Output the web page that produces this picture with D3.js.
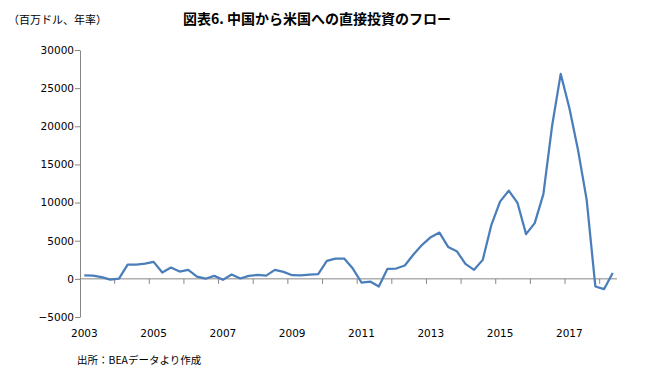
<!DOCTYPE html>
<html>
<head>
<meta charset="utf-8">
<script src="https://cdn.jsdelivr.net/npm/d3@7"></script>
<style>
  body { margin: 0; background: #fff; }
</style>
</head>
<body>
<script>
// chart size
var w = 647;
var h = 378;

// data: China -> US direct investment flow, quarterly, million USD (annual rate)
var startYear = 2003;
var flowValues = [
  450, 430, 220, -100,
  30, 1870, 1870, 2000,
  2230, 830, 1480, 960,
  1180, 300, 20, 390,
  -130, 570, 50, 390,
  520, 430, 1180, 920,
  480, 460, 540, 610,
  2360, 2660, 2660, 1350,
  -480, -350, -1000, 1310,
  1350, 1750, 3200, 4460,
  5460, 6070, 4190, 3630,
  1970, 1180, 2490, 7080,
  10130, 11570, 10000, 5860,
  7300, 11100, 20000, 26870,
  22400, 16900, 10350, -1000,
  -1350, 780
];
var yearLabels = ["2003", "2005", "2007", "2009", "2011", "2013", "2015", "2017"];
var yTicks = [-5000, 0, 5000, 10000, 15000, 20000, 25000, 30000];

var titleText = "図表6. 中国から米国への直接投資のフロー";
var unitText = "（百万ドル、年率）";
var sourceText = "出所：BEAデータより作成";

// quarter categories
var quarters = flowValues.map(function(d, i) {
  return (startYear + Math.floor(i / 4)) + "Q" + (i % 4 + 1);
});

// plot area (note: "top" is reserved on window, so use plot* names)
var plotLeft = 80, plotRight = 617, plotTop = 50, plotBottom = 317;
var axisColor = "#868686";

var svg = d3.select("body")
  .append("svg")
  .attr("width", w)
  .attr("height", h);

var xScale = d3.scalePoint()
  .domain(quarters)
  .range([plotLeft, plotRight])
  .padding(0.5);

var yScale = d3.scaleLinear()
  .domain([-5000, 30000])
  .range([plotBottom, plotTop]);

// y axis
var yAxis = d3.axisLeft(yScale)
  .tickValues(yTicks)
  .tickSize(5)
  .tickSizeOuter(0)
  .tickFormat(d3.format("d"));

var gy = svg.append("g")
  .attr("transform", "translate(" + plotLeft + ",0)")
  .call(yAxis);
gy.select(".domain").attr("stroke", axisColor).attr("stroke-width", 1);
gy.selectAll(".tick line").attr("stroke", axisColor);
gy.selectAll(".tick text")
  .attr("x", -6)
  .attr("fill", "#000")
  .attr("font-family", "DejaVu Sans, sans-serif")
  .attr("font-size", "10.5px");

// x axis on zero line, ticks every 4 quarters
var step = xScale.step();
var tickQuarters = quarters.filter(function(d, i) { return i % 4 === 0; }).slice(1);
var gx = svg.append("g");
gx.append("line")
  .attr("x1", plotLeft)
  .attr("x2", plotRight)
  .attr("y1", yScale(0))
  .attr("y2", yScale(0))
  .attr("stroke", axisColor)
  .attr("stroke-width", 1);
gx.selectAll("line.xt")
  .data(tickQuarters)
  .enter()
  .append("line")
  .attr("class", "xt")
  .attr("x1", function(d) { return xScale(d) - step / 2; })
  .attr("x2", function(d) { return xScale(d) - step / 2; })
  .attr("y1", yScale(0))
  .attr("y2", yScale(0) + 5)
  .attr("stroke", axisColor);

// year labels at bottom
svg.selectAll("text.year")
  .data(yearLabels)
  .enter()
  .append("text")
  .attr("class", "year")
  .text(function(d) { return d; })
  .attr("x", function(d) { return xScale(d + "Q1"); })
  .attr("y", 337)
  .attr("text-anchor", "middle")
  .attr("font-family", "DejaVu Sans, sans-serif")
  .attr("font-size", "10.5px")
  .attr("fill", "#000");

// line
var line = d3.line()
  .x(function(d, i) { return xScale(quarters[i]); })
  .y(function(d) { return yScale(d); });

svg.append("path")
  .datum(flowValues)
  .attr("d", line)
  .attr("fill", "none")
  .attr("stroke", "#4A7EBB")
  .attr("stroke-width", 2.25)
  .attr("stroke-linejoin", "round");

// texts
svg.append("text")
  .text(titleText)
  .attr("x", 317)
  .attr("y", 24)
  .attr("text-anchor", "middle")
  .attr("font-family", "Noto Sans CJK JP, sans-serif")
  .attr("font-weight", "bold")
  .attr("font-size", "14px")
  .attr("fill", "#000");

svg.append("text")
  .text(unitText)
  .attr("x", 8)
  .attr("y", 24)
  .attr("font-family", "Noto Sans CJK JP, sans-serif")
  .attr("font-size", "11px")
  .attr("fill", "#000");

svg.append("text")
  .text(sourceText)
  .attr("x", 77)
  .attr("y", 364)
  .attr("font-family", "Noto Sans CJK JP, sans-serif")
  .attr("font-size", "10.5px")
  .attr("fill", "#000");
</script>
</body>
</html>
